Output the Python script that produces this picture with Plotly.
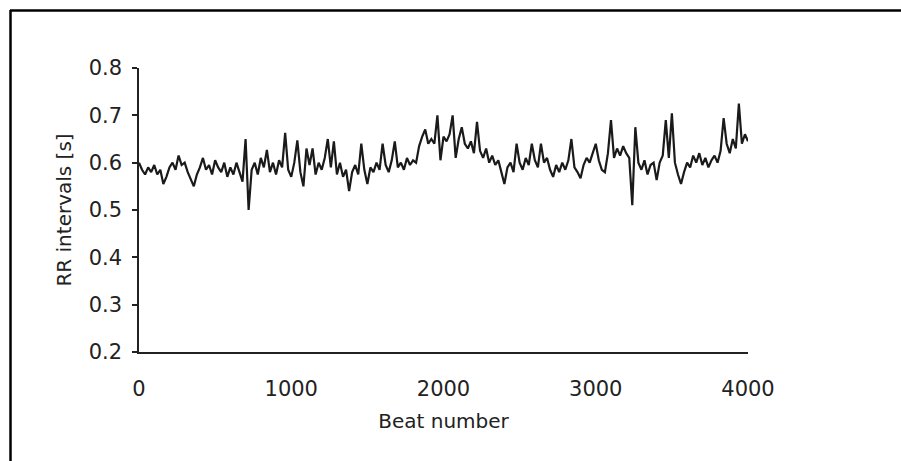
import plotly.graph_objects as go

# Beat numbers (every 20 beats) and RR intervals [s]
beat_step = 20
rr_values = [
    0.600, 0.585, 0.575, 0.590, 0.580, 0.595, 0.575, 0.585, 0.555, 0.570,
    0.590, 0.600, 0.585, 0.615, 0.595, 0.600,
    0.580, 0.565, 0.550, 0.575, 0.590, 0.610, 0.585, 0.595, 0.575, 0.605,
    0.590, 0.580, 0.600, 0.570, 0.590, 0.575, 0.600, 0.580, 0.560, 0.650,
    0.500, 0.585, 0.600, 0.575, 0.610, 0.590, 0.627, 0.580, 0.600, 0.575,
    0.605, 0.590, 0.663, 0.585, 0.570, 0.600, 0.647, 0.580, 0.550, 0.630,
    0.595, 0.630, 0.575, 0.600, 0.585, 0.610, 0.650, 0.590, 0.645, 0.575,
    0.600, 0.570, 0.585, 0.540, 0.580, 0.595, 0.575, 0.640, 0.585, 0.555,
    0.590, 0.580, 0.600, 0.585, 0.640, 0.595, 0.580, 0.605, 0.645, 0.590,
    0.600, 0.585, 0.610, 0.595, 0.605, 0.600, 0.635, 0.655, 0.670, 0.640,
    0.650, 0.640, 0.700, 0.605, 0.655, 0.645, 0.660, 0.700, 0.610, 0.650,
    0.675, 0.640, 0.630, 0.645, 0.620, 0.686, 0.625, 0.610, 0.630, 0.600,
    0.615, 0.595, 0.605, 0.580, 0.555, 0.590, 0.600, 0.580, 0.640, 0.600,
    0.585, 0.610, 0.595, 0.640, 0.605, 0.590, 0.640, 0.600, 0.610, 0.585,
    0.570, 0.595, 0.580, 0.600, 0.585, 0.605, 0.650, 0.590, 0.580, 0.567,
    0.595, 0.610, 0.600, 0.620, 0.640, 0.605, 0.585, 0.580, 0.620, 0.690,
    0.610, 0.630, 0.615, 0.635, 0.620, 0.610, 0.510, 0.675, 0.600, 0.585,
    0.605, 0.575, 0.595, 0.600, 0.563, 0.600, 0.615, 0.690, 0.610, 0.704,
    0.600, 0.575, 0.555, 0.580, 0.600, 0.590, 0.615, 0.600, 0.620, 0.595,
    0.610, 0.590, 0.605, 0.615, 0.600, 0.625, 0.694, 0.640, 0.620, 0.650,
    0.630, 0.725, 0.640, 0.660, 0.645,
]
beats = [i * beat_step for i in range(len(rr_values))]

x_ticks = [0, 1000, 2000, 3000, 4000]
x_tick_labels = ["0", "1000", "2000", "3000", "4000"]
y_ticks = [0.2, 0.3, 0.4, 0.5, 0.6, 0.7, 0.8]
y_tick_labels = ["0.2", "0.3", "0.4", "0.5", "0.6", "0.7", "0.8"]

FONT = "DejaVu Sans"
INK = "#222222"

fig = go.Figure()
fig.add_trace(go.Scatter(
    x=beats, y=rr_values, mode="lines",
    line=dict(color="#1a1a1a", width=2.2),
    showlegend=False, hoverinfo="skip",
))

# plot area in pixels: x 139..748, y 68..352
L, R, T, B = 139, 748, 68, 352
W, H = R - L, B - T
def px(p):
    return (p - L) / W
def py(p):
    return (B - p) / H

fig.update_layout(
    width=901, height=461,
    margin=dict(l=L, r=901 - R, t=T, b=461 - B),
    paper_bgcolor="white", plot_bgcolor="white",
    font=dict(family=FONT, size=21, color=INK),
    xaxis=dict(
        range=[0, 4000], tickmode="array", tickvals=x_ticks, ticktext=x_tick_labels,
        showgrid=False, zeroline=False, showline=True, linecolor=INK, linewidth=1.5,
        ticks="", ticklabelstandoff=17,
        title=dict(text="Beat number", font=dict(size=20, color=INK), standoff=14),
    ),
    yaxis=dict(
        range=[0.2, 0.8], tickmode="array", tickvals=y_ticks, ticktext=y_tick_labels,
        showgrid=False, zeroline=False, showline=True, linecolor=INK, linewidth=1.5,
        ticks="outside", ticklen=5, tickwidth=1.5, tickcolor=INK, ticklabelstandoff=6,
        title=dict(text="RR intervals [s]", font=dict(size=20, color=INK), standoff=12),
    ),
    shapes=[
        dict(type="line", xref="paper", yref="paper",
             x0=px(10), x1=px(901), y0=py(10.5), y1=py(10.5),
             line=dict(color="black", width=2.5)),
        dict(type="line", xref="paper", yref="paper",
             x0=px(10.5), x1=px(10.5), y0=py(10), y1=py(461),
             line=dict(color="black", width=2.5)),
    ],
)

fig.write_html("out.html")
